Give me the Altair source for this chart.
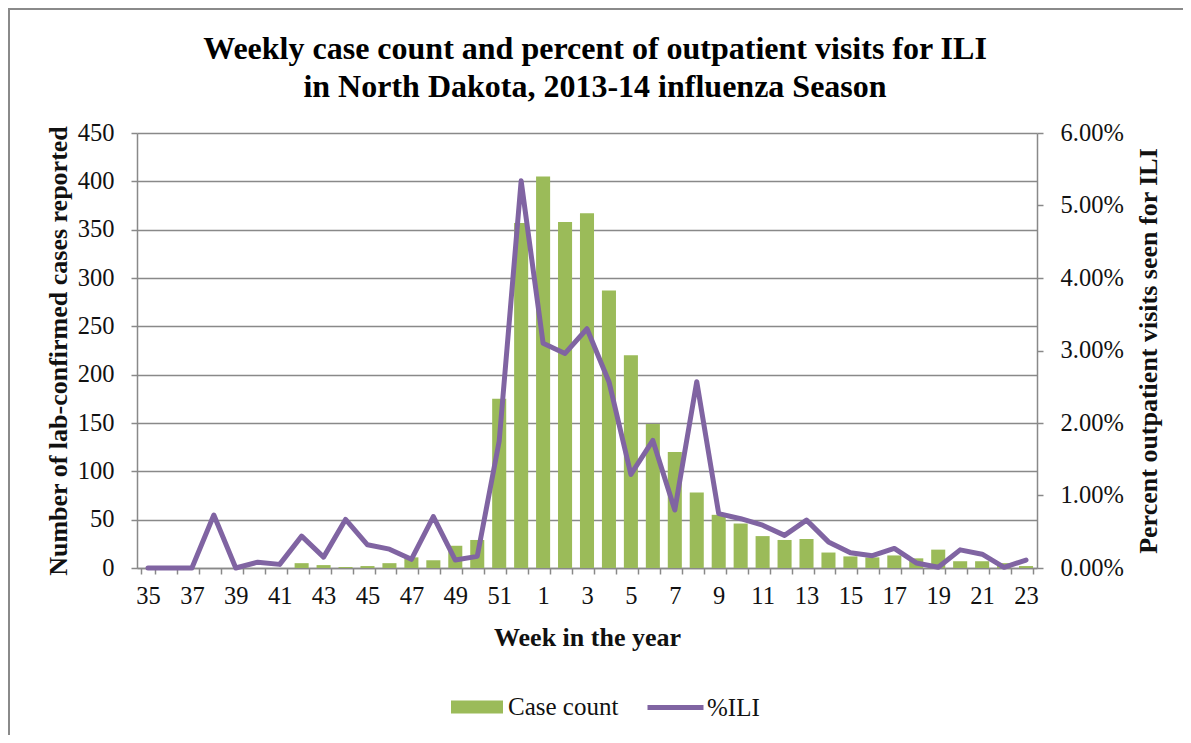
import altair as alt
import pandas as pd

weeks = [str(w) for w in list(range(35, 53)) + list(range(1, 24))]
cases = [0, 0, 0, 0, 0, 0, 0, 5, 3, 1, 2, 5, 11, 8, 23, 29,
         175, 357, 405, 358, 367, 287, 220, 149, 120, 78, 55, 46,
         33, 29, 30, 16, 12, 11, 13, 10, 19, 7, 7, 5, 2]
ili = [0.0, 0.0, 0.0, 0.73, 0.0, 0.08, 0.05, 0.44, 0.15, 0.67, 0.32, 0.26,
       0.12, 0.71, 0.11, 0.16, 1.75, 5.34, 3.10, 2.96, 3.30, 2.57, 1.29,
       1.76, 0.80, 2.57, 0.75, 0.68, 0.59, 0.45, 0.66, 0.36, 0.21, 0.17,
       0.27, 0.07, 0.01, 0.25, 0.19, 0.01, 0.11]

df = pd.DataFrame({"week": weeks, "cases": cases, "ili": [v / 100 for v in ili]})

FONT = "Liberation Serif"
GRAY = "#898989"

x = alt.X(
    "week:N", sort=weeks,
    scale=alt.Scale(paddingInner=0.36, paddingOuter=0.18),
    axis=alt.Axis(
        title="Week in the year", titleFontSize=26, titleFontWeight="bold",
        titleFont=FONT, titlePadding=17, labelAngle=0, labelOverlap=False,
        labelExpr="toNumber(datum.value) % 2 == 1 ? datum.label : ''",
        tickBand="extent", tickSize=6, labelPadding=10,
    ),
)

bars = alt.Chart(df).mark_bar(color="#9BBB59").encode(
    x=x,
    y=alt.Y("cases:Q", scale=alt.Scale(domain=[0, 450]),
            axis=alt.Axis(title="Number of lab-confirmed cases reported",
                          values=list(range(0, 451, 50)), grid=True,
                          titleFontSize=26, titleFontWeight="bold", titleFont=FONT,
                          tickSize=6, labelPadding=17, titlePadding=6)),
    color=alt.Color("s:N", scale=alt.Scale(domain=["Case count"], range=["#9BBB59"]),
                    legend=alt.Legend(title=None, orient="none", legendX=314, legendY=548,
                                      symbolType="M-1,-0.25H1V0.25H-1Z", symbolSize=2704,
                                      symbolStrokeWidth=0, symbolOpacity=1,
                                      labelFontSize=25, labelFont=FONT, labelOffset=5,
                                      labelColor="#111", padding=0)),
).transform_calculate(s="'Case count'")

line = alt.Chart(df).mark_line(strokeWidth=5, strokeJoin="round", strokeCap="round").encode(
    x=x,
    y=alt.Y("ili:Q", scale=alt.Scale(domain=[0, 0.06]),
            axis=alt.Axis(title="Percent outpatient visits seen for ILI", orient="right",
                          values=[0, 0.01, 0.02, 0.03, 0.04, 0.05, 0.06], format=".2%",
                          grid=False, titleFontSize=26, titleFontWeight="bold",
                          titleFont=FONT, tickSize=6, labelPadding=17, titlePadding=38,
                          titleAngle=270)),
    stroke=alt.Stroke("t:N", scale=alt.Scale(domain=["%ILI"], range=["#8064A2"]),
                      legend=alt.Legend(title=None, orient="none", legendX=508, legendY=544,
                                        symbolType="stroke", symbolSize=3136,
                                        symbolStrokeWidth=5,
                                        labelFontSize=25, labelFont=FONT, labelOffset=1,
                                        labelColor="#111", padding=0)),
).transform_calculate(t="'%ILI'")

frame = alt.Chart(df).mark_rect(fill="transparent", stroke="#8a8a8a", strokeWidth=2).encode(
    x=alt.value(-128), x2=alt.value(1300), y=alt.value(-124), y2=alt.value(900)
).transform_filter("datum.week == '35'")

chart = alt.layer(frame, bars, line).resolve_scale(
    y="independent", color="independent", stroke="independent"
).properties(
    width=900, height=435,
    autosize=alt.AutoSizeParams(type="none"),
    padding={"left": 129, "top": 125, "right": 146, "bottom": 167},
    title=alt.Title(
        ["Weekly case count and percent of  outpatient visits for ILI",
         "in North Dakota, 2013-14 influenza Season"],
        fontSize=32, font=FONT, fontWeight="bold", anchor="middle", dx=8,
        offset=-96, lineHeight=38, color="#000",
    ),
).configure_axis(
    labelFont=FONT, labelFontSize=24.5, labelColor="#111", titleColor="#111",
    domainColor=GRAY, domainWidth=1.5, tickColor=GRAY, tickWidth=1.5,
    gridColor=GRAY, gridWidth=1.3,
).configure_view(stroke=None)

chart.save("out.html", embed_options={"renderer": "svg", "actions": False})
